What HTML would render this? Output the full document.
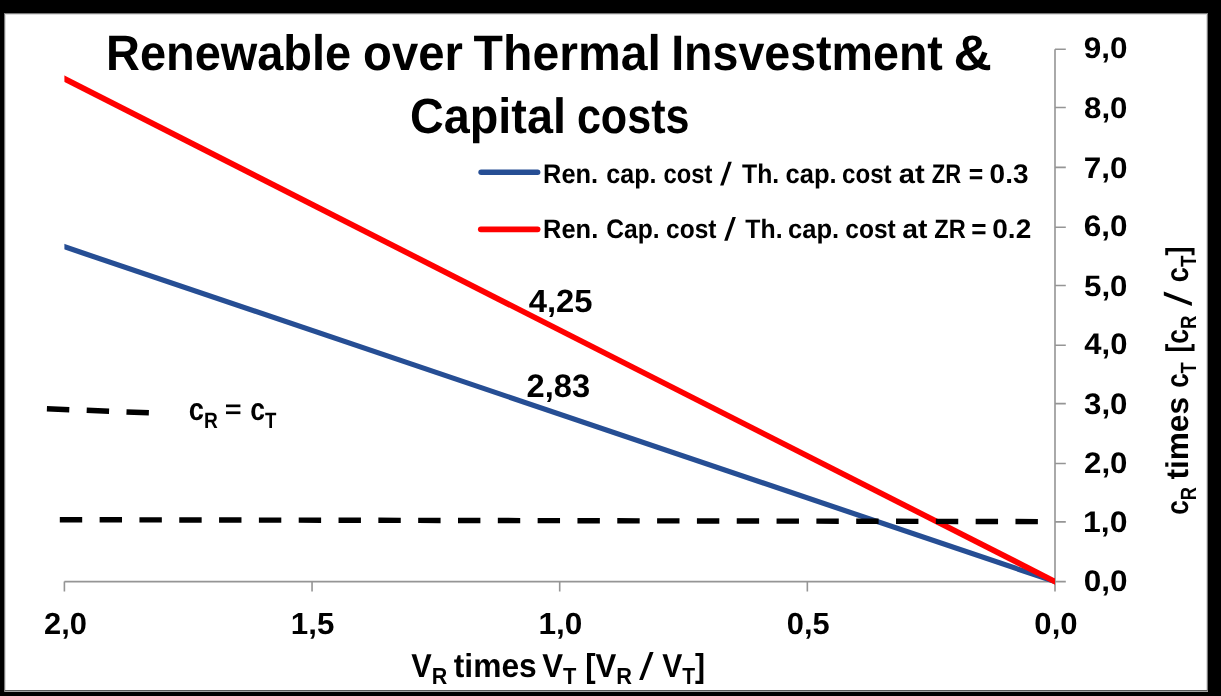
<!DOCTYPE html>
<html><head><meta charset="utf-8"><title>Renewable over Thermal Investment chart</title>
<style>html,body{margin:0;padding:0;background:#000;width:1221px;height:696px;overflow:hidden}
svg{display:block;will-change:transform} text{font-family:"Liberation Sans", sans-serif;font-weight:bold;fill:#000;text-rendering:geometricPrecision}</style></head>
<body><svg width="1221" height="696" viewBox="0 0 1221 696">
<rect x="0" y="0" width="1221" height="696" fill="#000"/>
<rect x="4" y="13" width="1204" height="679" fill="#7a7a7a"/>
<rect x="5" y="14" width="1202" height="677" fill="#dcdcdc"/>
<rect x="6" y="15" width="1200" height="675" fill="#fff"/>
<rect x="5" y="690" width="1202" height="1" fill="#5a5a5a"/>
<rect x="5" y="691" width="1203" height="1" fill="#a0a0a0"/>
<path d="M1055.00 49.25V591.60M64.40 581.60H1065.80M1055.00 581.63H1065.80M1055.00 521.86H1065.80M1055.00 463.49H1065.80M1055.00 403.63H1065.80M1055.00 345.20H1065.80M1055.00 285.48H1065.80M1055.00 227.20H1065.80M1055.00 167.34H1065.80M1055.00 107.56H1065.80M1055.00 49.25H1065.80M64.40 581.60V591.60M312.05 581.60V591.60M559.70 581.60V591.60M807.35 581.60V591.60M1055.00 581.60V591.60" stroke="#959595" stroke-width="1.6" fill="none"/>
<clipPath id="pc"><rect x="64.40" y="0" width="990.60" height="696"/></clipPath>
<g clip-path="url(#pc)"><line x1="61.40" y1="245.74" x2="1058.00" y2="582.61" stroke="#264e94" stroke-width="5.2"/>
<line x1="61.40" y1="77.22" x2="1058.00" y2="583.12" stroke="#ff0000" stroke-width="5.7"/></g>
<line x1="59.8" y1="519.7" x2="1038.5" y2="521.6" stroke="#000" stroke-width="5.4" stroke-dasharray="22.4 17.42"/>
<line x1="46.9" y1="408.8" x2="148.9" y2="412.8" stroke="#000" stroke-width="5.5" stroke-dasharray="22.4 17.42"/>
<line x1="481.1" y1="172.3" x2="537.6" y2="172.3" stroke="#264e94" stroke-width="5.5" stroke-linecap="round"/>
<line x1="480.8" y1="229.3" x2="537.6" y2="229.3" stroke="#ff0000" stroke-width="5.7" stroke-linecap="round"/>
<rect x="226" y="404.5" width="14.4" height="2.7" fill="#000"/><rect x="226" y="411.4" width="14.4" height="2.7" fill="#000"/>
<polygon points="728.40,161.80 731.80,161.80 723.50,185.40 720.10,185.40" fill="#000"/>
<polygon points="732.50,217.10 735.90,217.10 727.60,240.70 724.20,240.70" fill="#000"/>
<polygon points="649.80,652.00 653.60,652.00 642.90,680.10 639.10,680.10" fill="#000"/>
<polygon points="1163.8,291.6 1163.8,295.4 1191.9,306.0 1191.9,302.2" fill="#000"/>
<text transform="translate(106.02,69.60) scale(0.9410,1)"><tspan font-size="49.855">Renewable</tspan></text>
<text transform="translate(363.11,69.60) scale(0.9474,1)"><tspan font-size="49.855">over</tspan></text>
<text transform="translate(473.62,69.60) scale(0.9655,1)"><tspan font-size="49.855">Thermal</tspan></text>
<text transform="translate(671.14,69.60) scale(0.9342,1)"><tspan font-size="49.855">Insvestment</tspan></text>
<text transform="translate(953.58,69.60) scale(1.0646,1)"><tspan font-size="49.855">&amp;</tspan></text>
<text transform="translate(410.03,133.40) scale(0.9436,1)"><tspan font-size="49.565">Capital</tspan></text>
<text transform="translate(576.88,133.40) scale(0.8700,1)"><tspan font-size="49.565">costs</tspan></text>
<text transform="translate(543.12,182.70) scale(0.9404,1)"><tspan font-size="27.029">Ren.</tspan></text>
<text transform="translate(606.19,182.70) scale(0.9298,1)"><tspan font-size="27.029">cap.</tspan></text>
<text transform="translate(663.55,182.70) scale(0.8787,1)"><tspan font-size="27.029">cost</tspan></text>
<text transform="translate(742.05,182.70) scale(0.9171,1)"><tspan font-size="27.029">Th.</tspan></text>
<text transform="translate(785.48,182.70) scale(0.9455,1)"><tspan font-size="27.029">cap.</tspan></text>
<text transform="translate(842.03,182.70) scale(0.8935,1)"><tspan font-size="27.029">cost</tspan></text>
<text transform="translate(898.72,182.70) scale(1.0795,1)"><tspan font-size="27.029">at</tspan></text>
<text transform="translate(931.74,182.70) scale(0.8151,1)"><tspan font-size="27.029">ZR</tspan></text>
<text transform="translate(968.81,182.70) scale(0.9175,1)"><tspan font-size="27.029">=</tspan></text>
<text transform="translate(989.58,182.70) scale(1.0365,1)"><tspan font-size="27.029">0.3</tspan></text>
<text transform="translate(543.12,237.97) scale(0.9517,1)"><tspan font-size="26.710">Ren.</tspan></text>
<text transform="translate(606.22,237.97) scale(0.9214,1)"><tspan font-size="26.710">Cap.</tspan></text>
<text transform="translate(666.02,237.97) scale(0.9191,1)"><tspan font-size="26.710">cost</tspan></text>
<text transform="translate(745.35,237.97) scale(0.9281,1)"><tspan font-size="26.710">Th.</tspan></text>
<text transform="translate(787.98,237.97) scale(0.9568,1)"><tspan font-size="26.710">cap.</tspan></text>
<text transform="translate(845.32,237.97) scale(0.9191,1)"><tspan font-size="26.710">cost</tspan></text>
<text transform="translate(902.35,237.97) scale(1.0615,1)"><tspan font-size="26.710">at</tspan></text>
<text transform="translate(934.29,237.97) scale(0.8833,1)"><tspan font-size="26.710">ZR</tspan></text>
<text transform="translate(971.35,237.97) scale(0.9809,1)"><tspan font-size="26.710">=</tspan></text>
<text transform="translate(992.28,237.97) scale(1.0489,1)"><tspan font-size="26.710">0.2</tspan></text>
<text transform="translate(1083.69,590.94) scale(1.0576,1)"><tspan font-size="29.775">0,0</tspan></text>
<text transform="translate(1083.03,532.45) scale(1.0755,1)"><tspan font-size="29.732">1,0</tspan></text>
<text transform="translate(1084.01,472.70) scale(1.0505,1)"><tspan font-size="29.746">2,0</tspan></text>
<text transform="translate(1084.01,414.20) scale(1.0510,1)"><tspan font-size="29.732">3,0</tspan></text>
<text transform="translate(1084.33,354.45) scale(1.0426,1)"><tspan font-size="29.746">4,0</tspan></text>
<text transform="translate(1084.01,295.96) scale(1.0636,1)"><tspan font-size="29.380">5,0</tspan></text>
<text transform="translate(1083.69,236.45) scale(1.0586,1)"><tspan font-size="29.746">6,0</tspan></text>
<text transform="translate(1083.69,177.95) scale(1.0571,1)"><tspan font-size="29.789">7,0</tspan></text>
<text transform="translate(1084.01,118.45) scale(1.0505,1)"><tspan font-size="29.746">8,0</tspan></text>
<text transform="translate(1083.69,58.45) scale(1.0591,1)"><tspan font-size="29.732">9,0</tspan></text>
<text transform="translate(44.07,633.89) scale(1.0101,1)"><tspan font-size="30.563">2,0</tspan></text>
<text transform="translate(290.77,633.89) scale(1.0256,1)"><tspan font-size="30.563">1,5</tspan></text>
<text transform="translate(538.40,633.89) scale(1.0336,1)"><tspan font-size="30.563">1,0</tspan></text>
<text transform="translate(786.72,633.89) scale(1.0101,1)"><tspan font-size="30.563">0,5</tspan></text>
<text transform="translate(1034.36,633.89) scale(1.0178,1)"><tspan font-size="30.563">0,0</tspan></text>
<text transform="translate(528.74,311.58) scale(1.0211,1)"><tspan font-size="32.113">4,25</tspan></text>
<text transform="translate(526.52,397.27) scale(1.0046,1)"><tspan font-size="32.535">2,83</tspan></text>
<text transform="translate(411.29,676.75) scale(0.9232,1)"><tspan font-size="33.261">V</tspan><tspan font-size="23.283" dy="6.852">R</tspan><tspan font-size="33.261" dy="-6.852">&#8203;</tspan></text>
<text transform="translate(453.78,676.75) scale(0.9548,1)"><tspan font-size="33.261">times</tspan></text>
<text transform="translate(542.29,676.75) scale(0.9385,1)"><tspan font-size="33.261">V</tspan><tspan font-size="23.283" dy="6.852">T</tspan><tspan font-size="33.261" dy="-6.852">&#8203;</tspan></text>
<text transform="translate(585.23,676.75) scale(0.9361,1)"><tspan font-size="33.261">[V</tspan><tspan font-size="23.283" dy="6.852">R</tspan><tspan font-size="33.261" dy="-6.852">&#8203;</tspan></text>
<text transform="translate(662.20,676.75) scale(0.9042,1)"><tspan font-size="33.261">V</tspan><tspan font-size="23.283" dy="6.852">T</tspan><tspan font-size="33.261" dy="-6.852">&#8203;</tspan><tspan font-size="33.261">]</tspan></text>
<text transform="translate(188.71,420.09) scale(0.8703,1)"><tspan font-size="31.455">c</tspan><tspan font-size="22.018" dy="7.706">R</tspan><tspan font-size="31.455" dy="-7.706">&#8203;</tspan></text>
<text transform="translate(250.14,420.09) scale(0.8444,1)"><tspan font-size="31.455">c</tspan><tspan font-size="22.018" dy="7.706">T</tspan><tspan font-size="31.455" dy="-7.706">&#8203;</tspan></text>
<text transform="rotate(-90) translate(-514.85,1187.89) scale(0.8317,1)"><tspan font-size="31.455">c</tspan><tspan font-size="22.018" dy="7.706">R</tspan><tspan font-size="31.455" dy="-7.706">&#8203;</tspan></text>
<text transform="rotate(-90) translate(-479.62,1187.89) scale(1.0059,1)"><tspan font-size="31.455">times</tspan></text>
<text transform="rotate(-90) translate(-387.84,1187.89) scale(0.8239,1)"><tspan font-size="31.455">c</tspan><tspan font-size="22.018" dy="7.706">T</tspan><tspan font-size="31.455" dy="-7.706">&#8203;</tspan></text>
<text transform="rotate(-90) translate(-352.49,1187.89) scale(0.8437,1)"><tspan font-size="31.455">[c</tspan><tspan font-size="22.018" dy="7.706">R</tspan><tspan font-size="31.455" dy="-7.706">&#8203;</tspan></text>
<text transform="rotate(-90) translate(-282.18,1187.89) scale(0.8618,1)"><tspan font-size="31.455">c</tspan><tspan font-size="22.018" dy="7.706">T</tspan><tspan font-size="31.455" dy="-7.706">&#8203;</tspan><tspan font-size="31.455">]</tspan></text>
</svg></body></html>
